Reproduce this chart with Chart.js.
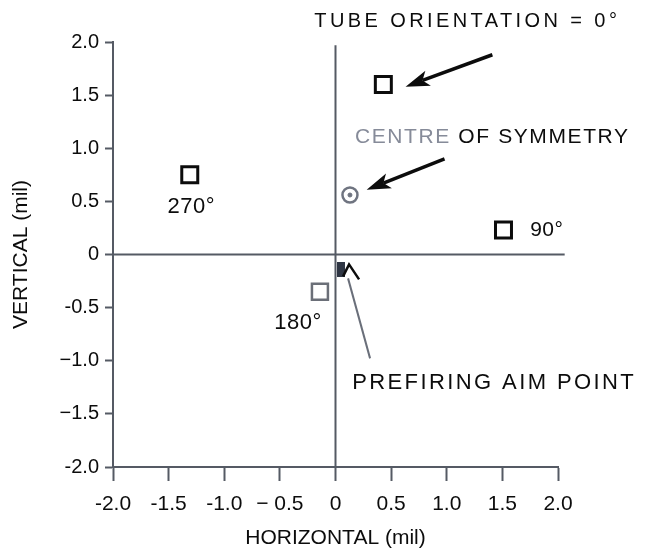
<!DOCTYPE html>
<html>
<head>
<meta charset="utf-8">
<script src="https://cdn.jsdelivr.net/npm/chart.js@4.4.0/dist/chart.umd.min.js"></script>
<style>
  html, body { margin: 0; padding: 0; background: #fff; }
  #wrap { width: 666px; height: 552px; }
</style>
</head>
<body>
<div id="wrap"><canvas id="c"></canvas></div>
<script>
// impact points for each tube orientation (mil)
const orientLabels = ['0°', '90°', '180°', '270°'];
const orientX = [0.43, 1.51, -0.14, -1.31];
const orientY = [1.60, 0.23, -0.35, 0.75];

// centre of symmetry + prefiring aim point
const centreX = [0.13];
const centreY = [0.56];
const aimX = [0.05];
const aimY = [-0.14];

// cross lines through origin
const zeroHX = [-2, 2.06];
const zeroHY = [0, 0];
const zeroVX = [0, 0];
const zeroVY = [-2, 1.97];

const xTickLabels = ['-2.0', '-1.5', '-1.0', '\u2212 0.5', '0', '0.5', '1.0', '1.5', '2.0'];
const yTickLabels = ['-2.0', '\u22121.5', '\u22121.0', '-0.5', '0', '0.5', '1.0', '1.5', '2.0'];

const FONT = '"Liberation Sans", Arial, Helvetica, sans-serif';
const INK = '#0c0c0c';
const GREY = '#555a64';

function pts(xs, ys) {
    return xs.map((x, i) => ({ x: x, y: ys[i] }));
}

// small dark block used as the aim point marker
const aimMark = document.createElement('canvas');
aimMark.width = 8;
aimMark.height = 15;
(function () {
    const g = aimMark.getContext('2d');
    g.fillStyle = '#2f3644';
    g.fillRect(0, 0, 8, 15);
})();

// text notes and arrows, placed in data units
const notes = [
    { parts: [['TUBE ORIENTATION = 0°', INK]], x: -0.19, y: 2.19, size: 20, sp: 3.4 },
    { parts: [['CENTRE', '#868b99'], [' OF SYMMETRY', INK]], x: 0.175, y: 1.10, size: 21, sp: 1.6 },
    { parts: [['270°', INK]], x: -1.51, y: 0.45, size: 22, sp: 0.5 },
    { parts: [['90°', INK]], x: 1.75, y: 0.23, size: 21, sp: 0.5 },
    { parts: [['180°', INK]], x: -0.55, y: -0.64, size: 22, sp: 0.5 },
    { parts: [['PREFIRING AIM POINT', INK]], x: 0.15, y: -1.21, size: 22, sp: 2.4 }
];
const arrows = [
    { from: [1.41, 1.88], to: [0.63, 1.58] },
    { from: [0.98, 0.90], to: [0.28, 0.61] }
];

function drawArrow(ctx, x1, y1, x2, y2) {
    const ang = Math.atan2(y2 - y1, x2 - x1);
    const len = 24, half = 8;
    const bx = x2 - Math.cos(ang) * len, by = y2 - Math.sin(ang) * len;
    ctx.strokeStyle = INK;
    ctx.lineWidth = 3.5;
    ctx.beginPath();
    ctx.moveTo(x1, y1);
    ctx.lineTo(bx + Math.cos(ang) * 6, by + Math.sin(ang) * 6);
    ctx.stroke();
    ctx.fillStyle = INK;
    ctx.beginPath();
    ctx.moveTo(x2, y2);
    ctx.lineTo(bx - Math.sin(ang) * half, by + Math.cos(ang) * half);
    ctx.lineTo(bx + Math.cos(ang) * 6, by + Math.sin(ang) * 6);
    ctx.lineTo(bx + Math.sin(ang) * half, by - Math.cos(ang) * half);
    ctx.closePath();
    ctx.fill();
}

const notesPlugin = {
    id: 'notes',
    afterDatasetsDraw(chart) {
        const ctx = chart.ctx;
        const sx = chart.scales.x, sy = chart.scales.y;
        ctx.save();
        ctx.textBaseline = 'middle';
        ctx.textAlign = 'left';
        notes.forEach(n => {
            ctx.font = n.size + 'px ' + FONT;
            ctx.letterSpacing = n.sp + 'px';
            let px = sx.getPixelForValue(n.x);
            const py = sy.getPixelForValue(n.y);
            n.parts.forEach(([txt, col]) => {
                ctx.fillStyle = col;
                ctx.fillText(txt, px, py);
                px += ctx.measureText(txt).width;
            });
        });
        ctx.letterSpacing = '0px';
        arrows.forEach(a => {
            drawArrow(ctx,
                sx.getPixelForValue(a.from[0]), sy.getPixelForValue(a.from[1]),
                sx.getPixelForValue(a.to[0]), sy.getPixelForValue(a.to[1]));
        });

        // thin leader from the aim point label up to the marker
        const ax = sx.getPixelForValue(aimX[0]), ay = sy.getPixelForValue(aimY[0]);
        ctx.strokeStyle = '#6a6f7a';
        ctx.lineWidth = 2;
        ctx.beginPath();
        ctx.moveTo(ax + 29, ay + 89);
        ctx.lineTo(ax + 7, ay + 9);
        ctx.stroke();
        ctx.strokeStyle = INK;
        ctx.lineWidth = 2.5;
        ctx.beginPath();
        ctx.moveTo(ax + 2, ay + 7);
        ctx.lineTo(ax + 8, ay - 5);
        ctx.lineTo(ax + 18, ay + 10);
        ctx.stroke();
        ctx.restore();
    }
};

new Chart(document.getElementById('c'), {
    type: 'scatter',
    data: {
        datasets: [
            {
                label: 'aim',
                data: pts(aimX, aimY),
                pointStyle: aimMark,
                pointRadius: 8
            },
            {
                label: 'centre dot',
                data: pts(centreX, centreY),
                pointStyle: 'circle',
                pointRadius: 2,
                backgroundColor: '#6f7480',
                borderColor: '#6f7480',
                borderWidth: 1
            },
            {
                label: 'centre',
                data: pts(centreX, centreY),
                pointStyle: 'circle',
                pointRadius: 7.5,
                backgroundColor: '#ffffff',
                borderColor: '#6f7480',
                borderWidth: 2.5
            },
            {
                label: 'orientation',
                data: pts(orientX, orientY),
                pointStyle: 'rect',
                pointRadius: 11.3,
                backgroundColor: '#ffffff',
                borderColor: c => c.dataIndex === 2 ? '#6b6f78' : INK,
                borderWidth: c => c.dataIndex === 2 ? 2.5 : 3
            },
            {
                label: 'zero h',
                data: pts(zeroHX, zeroHY),
                showLine: true,
                pointRadius: 0,
                borderColor: GREY,
                borderWidth: 2,
                clip: false
            },
            {
                label: 'zero v',
                data: pts(zeroVX, zeroVY),
                showLine: true,
                pointRadius: 0,
                borderColor: GREY,
                borderWidth: 2,
                clip: false
            }
        ]
    },
    options: {
        responsive: true,
        maintainAspectRatio: false,
        animation: false,
        devicePixelRatio: 1,
        layout: { padding: { left: 0, top: 42, right: 108, bottom: 0 } },
        plugins: {
            legend: { display: false },
            tooltip: { enabled: false }
        },
        scales: {
            x: {
                type: 'linear',
                min: -2,
                max: 2,
                afterFit: s => { s.height = 85; },
                ticks: {
                    stepSize: 0.5,
                    color: INK,
                    font: { family: FONT, size: 21 },
                    padding: 11,
                    maxRotation: 0,
                    callback: (v, i) => xTickLabels[i]
                },
                grid: { drawOnChartArea: false, drawTicks: true, tickLength: 14, tickColor: GREY, tickWidth: 2 },
                border: { display: true, color: GREY, width: 2 },
                title: {
                    display: true,
                    text: 'HORIZONTAL (mil)',
                    color: INK,
                    font: { family: FONT, size: 21 },
                    padding: { top: 0, bottom: 1 }
                }
            },
            y: {
                type: 'linear',
                min: -2,
                max: 2,
                afterFit: s => { s.width = 113; },
                ticks: {
                    stepSize: 0.5,
                    color: INK,
                    font: { family: FONT, size: 20 },
                    padding: 6,
                    callback: (v, i) => yTickLabels[i]
                },
                grid: { drawOnChartArea: false, drawTicks: true, tickLength: 8, tickColor: GREY, tickWidth: 2 },
                border: { display: true, color: GREY, width: 2 },
                title: {
                    display: true,
                    text: 'VERTICAL (mil)',
                    color: INK,
                    font: { family: FONT, size: 21 },
                    padding: { top: 9, bottom: 0 }
                }
            }
        }
    },
    plugins: [notesPlugin]
});
</script>
</body>
</html>
